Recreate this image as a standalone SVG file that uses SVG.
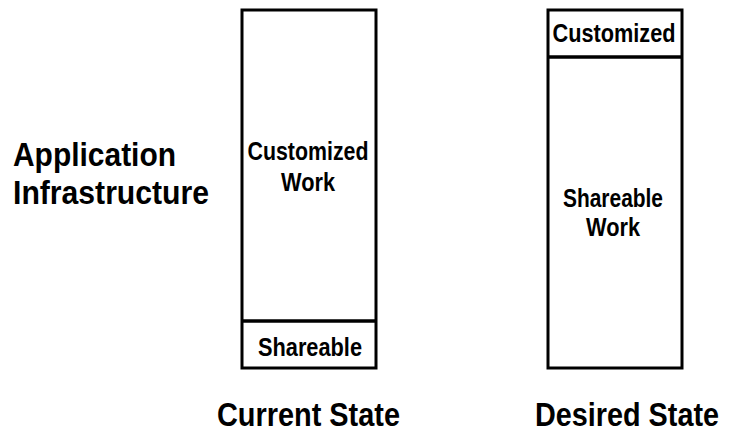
<svg xmlns="http://www.w3.org/2000/svg" width="729" height="435" viewBox="0 0 729 435">
<style>
  .box { fill: #ffffff; stroke: #000000; stroke-width: 3; }
  .div { stroke: #000000; stroke-width: 3.5; }
  .big { font-family: "Liberation Sans", Arial, sans-serif; font-weight: bold; font-size: 29px; fill: #000000; }
  .lbl { font-family: "Liberation Sans", Arial, sans-serif; font-weight: bold; font-size: 25px; fill: #000000; text-anchor: middle; }
</style>
<rect width="729" height="435" fill="#ffffff"/>
<g id="title-app">
  <text class="big" transform="translate(13,166) scale(1,1.17)" x="0" y="0" textLength="163" lengthAdjust="spacingAndGlyphs">Application</text>
  <text class="big" transform="translate(13,204) scale(1,1.17)" x="0" y="0" textLength="196" lengthAdjust="spacingAndGlyphs">Infrastructure</text>
</g>
<g id="current-state">
  <rect class="box" x="242" y="10" width="134" height="358"/>
  <line class="div" x1="242" y1="321" x2="376" y2="321"/>
  <text class="lbl" x="308" y="160" textLength="121" lengthAdjust="spacingAndGlyphs">Customized</text>
  <text class="lbl" x="308" y="191" textLength="54" lengthAdjust="spacingAndGlyphs">Work</text>
  <text class="lbl" x="310" y="356" textLength="104" lengthAdjust="spacingAndGlyphs">Shareable</text>
  <text class="big" transform="translate(217,426) scale(1,1.17)" x="0" y="0" textLength="183" lengthAdjust="spacingAndGlyphs">Current State</text>
</g>
<g id="desired-state">
  <rect class="box" x="548" y="10" width="134" height="358"/>
  <line class="div" x1="548" y1="57" x2="682" y2="57"/>
  <text class="lbl" x="614" y="42" textLength="123" lengthAdjust="spacingAndGlyphs">Customized</text>
  <text class="lbl" x="613" y="207" textLength="100" lengthAdjust="spacingAndGlyphs">Shareable</text>
  <text class="lbl" x="613" y="236" textLength="54" lengthAdjust="spacingAndGlyphs">Work</text>
  <text class="big" transform="translate(535,426) scale(1,1.17)" x="0" y="0" textLength="184" lengthAdjust="spacingAndGlyphs">Desired State</text>
</g>
<g id="connectors"></g>
</svg>
